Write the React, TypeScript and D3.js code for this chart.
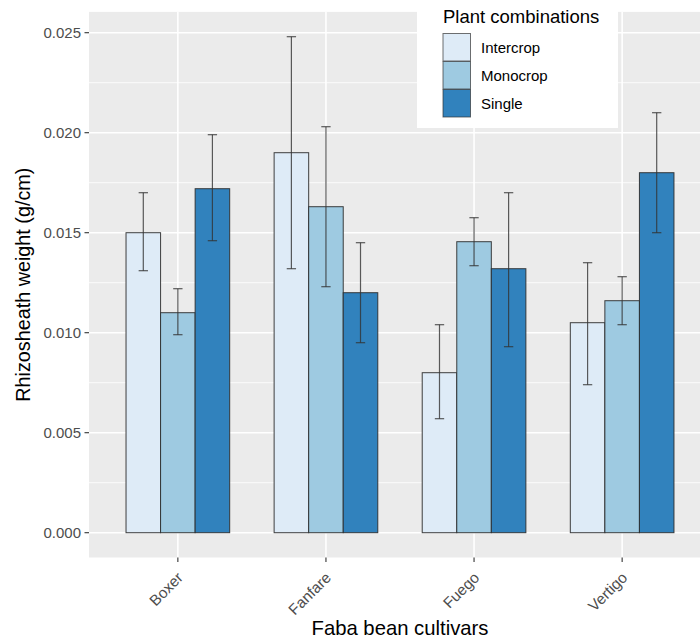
import React from "react";
import * as d3 from "d3";

const cultivars = ["Boxer", "Fanfare", "Fuego", "Vertigo"];
const combos = ["Intercrop", "Monocrop", "Single"];
const comboColors = ["#DEEBF7", "#9ECAE1", "#3182BD"];

const intercropMean = [0.0150, 0.0190, 0.0080, 0.0105];
const intercropLow = [0.0131, 0.0132, 0.0057, 0.0074];
const intercropHigh = [0.0170, 0.0248, 0.0104, 0.0135];
const monocropMean = [0.0110, 0.0163, 0.01455, 0.0116];
const monocropLow = [0.0099, 0.0123, 0.01335, 0.0104];
const monocropHigh = [0.0122, 0.0203, 0.01575, 0.0128];
const singleMean = [0.0172, 0.0120, 0.0132, 0.0180];
const singleLow = [0.0146, 0.0095, 0.0093, 0.0150];
const singleHigh = [0.0199, 0.0145, 0.0170, 0.0210];

const yTicks = [0, 0.005, 0.01, 0.015, 0.02, 0.025];
const yMinor = [0.0025, 0.0075, 0.0125, 0.0175, 0.0225];

const W = 700;
const H = 639;
const panelL = 89;
const panelR = 711;
const panelT = 11.9;
const panelB = 557.5;

const means = [intercropMean, monocropMean, singleMean];
const lows = [intercropLow, monocropLow, singleLow];
const highs = [intercropHigh, monocropHigh, singleHigh];

export default function App() {
  const maxV = d3.max(highs.flat()) as number;
  const pad = maxV * 0.05;
  const y = d3.scaleLinear().domain([-pad, maxV + pad]).range([panelB, panelT]);
  const x = d3.scalePoint<string>().domain(cultivars).range([panelL, panelR]).padding(0.6);
  const step = x.step();
  const inner = d3.scaleBand<string>().domain(combos).range([-0.35 * step, 0.35 * step]);
  const bw = inner.bandwidth();
  const capW = bw * 0.27;
  const font = "'Liberation Sans', Arial, sans-serif";

  const bars: any[] = [];
  combos.forEach((c, ci) => {
    cultivars.forEach((cv, i) => {
      bars.push({ c, ci, cv, mean: means[ci][i], lo: lows[ci][i], hi: highs[ci][i] });
    });
  });

  return (
    <svg width={W} height={H} style={{ position: "absolute", left: 0, top: 0, background: "#fff" }} fontFamily={font}>
      <rect x={panelL} y={panelT} width={panelR - panelL} height={panelB - panelT} fill="#EBEBEB" />
      {yMinor.map((t) => (
        <line key={"mn" + t} x1={panelL} x2={panelR} y1={y(t)} y2={y(t)} stroke="#fff" strokeWidth={0.8} />
      ))}
      {yTicks.map((t) => (
        <line key={"mj" + t} x1={panelL} x2={panelR} y1={y(t)} y2={y(t)} stroke="#fff" strokeWidth={1.6} />
      ))}
      {cultivars.map((c) => (
        <line key={"vx" + c} x1={x(c)} x2={x(c)} y1={panelT} y2={panelB} stroke="#fff" strokeWidth={1.6} />
      ))}
      {bars.map((b) => {
        const bx = (x(b.cv) as number) + (inner(b.c) as number);
        return (
          <rect key={"b" + b.c + b.cv} x={bx} y={y(b.mean)} width={bw} height={y(0) - y(b.mean)}
            fill={comboColors[b.ci]} stroke="#2b2b2b" strokeOpacity={0.9} strokeWidth={1} />
        );
      })}
      {bars.map((b) => {
        const cx = (x(b.cv) as number) + (inner(b.c) as number) + bw / 2;
        return (
          <g key={"e" + b.c + b.cv} stroke="#333" strokeOpacity={0.8} strokeWidth={1.2}>
            <line x1={cx} x2={cx} y1={y(b.lo)} y2={y(b.hi)} />
            <line x1={cx - capW / 2} x2={cx + capW / 2} y1={y(b.hi)} y2={y(b.hi)} />
            <line x1={cx - capW / 2} x2={cx + capW / 2} y1={y(b.lo)} y2={y(b.lo)} />
          </g>
        );
      })}
      {/* y axis */}
      {yTicks.map((t) => (
        <g key={"yt" + t}>
          <line x1={panelL - 4.5} x2={panelL} y1={y(t)} y2={y(t)} stroke="#333" strokeWidth={1.1} />
          <text x={panelL - 8} y={y(t)} dy="0.35em" textAnchor="end" fontSize={15} fill="#4D4D4D">
            {d3.format(".3f")(t)}
          </text>
        </g>
      ))}
      {/* x axis */}
      {cultivars.map((c) => (
        <g key={"xt" + c}>
          <line x1={x(c)} x2={x(c)} y1={panelB} y2={panelB + 4.5} stroke="#333" strokeWidth={1.1} />
          <text transform={`translate(${(x(c) as number) - 2},${panelB + 13}) rotate(-45)`} textAnchor="end"
            dy="0.75em" fontSize={15.3} fill="#4D4D4D">
            {c}
          </text>
        </g>
      ))}
      <text x={(panelL + panelR) / 2} y={635} textAnchor="middle" fontSize={20.3} fill="#000">
        Faba bean cultivars
      </text>
      <text transform={`translate(29.5,${(panelT + panelB) / 2}) rotate(-90)`} textAnchor="middle" fontSize={19.8} fill="#000">
        Rhizosheath weight (g/cm)
      </text>
      {/* legend */}
      <g>
        <rect x={417} y={0} width={201} height={128} fill="#fff" />
        <text x={443} y={22.5} fontSize={18.5} fill="#000">Plant combinations</text>
        {combos.map((c, i) => (
          <g key={"lg" + c}>
            <rect x={443} y={33.5 + i * 28} width={27.5} height={27.5} fill={comboColors[i]} stroke="#333" strokeOpacity={0.7} strokeWidth={1} />
            <text x={481} y={47.5 + i * 28} dy="0.35em" fontSize={15} fill="#000">{c}</text>
          </g>
        ))}
      </g>
    </svg>
  );
}
